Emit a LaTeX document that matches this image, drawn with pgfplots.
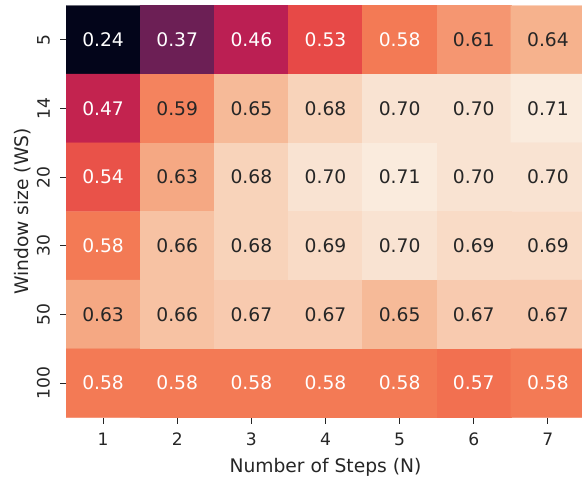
\documentclass[border=0pt]{standalone}
\usepackage{fontspec}
\setmainfont{DejaVu Sans}
\usepackage{pgfplots}
\pgfplotsset{compat=1.18}
\usepackage{pgfplotstable}
\definecolor{txt}{HTML}{262626}

% x = number of steps, y = row index of window size (5,14,20,30,50,100)
\pgfplotstableread{
x y z
1 0 0.24
2 0 0.37
3 0 0.46
4 0 0.53
5 0 0.58
6 0 0.61
7 0 0.64
1 1 0.47
2 1 0.59
3 1 0.65
4 1 0.68
5 1 0.70
6 1 0.70
7 1 0.71
1 2 0.54
2 2 0.63
3 2 0.68
4 2 0.70
5 2 0.71
6 2 0.70
7 2 0.70
1 3 0.58
2 3 0.66
3 3 0.68
4 3 0.69
5 3 0.70
6 3 0.69
7 3 0.69
1 4 0.63
2 4 0.66
3 4 0.67
4 4 0.67
5 4 0.65
6 4 0.67
7 4 0.67
1 5 0.58
2 5 0.58
3 5 0.58
4 5 0.58
5 5 0.58
6 5 0.57
7 5 0.58
}\acc

\pgfplotsset{
  cell label/.style={only marks, mark=none, point meta=explicit,
    nodes near coords={\pgfmathprintnumber[fixed, fixed zerofill, precision=2]{\pgfplotspointmeta}},
    every node near coord/.append style={anchor=center, text=#1,
      font=\fontsize{18.7}{22}\selectfont}},
}

\begin{document}
\begin{tikzpicture}
\begin{axis}[
  name=hm,
  width=519pt, height=412pt, scale only axis,
  xmin=0.5, xmax=7.5, ymin=-0.5, ymax=5.5,
  y dir=reverse,
  enlargelimits=false,
  axis line style={draw=none},
  xtick={1,...,7}, ytick={0,...,5},
  yticklabels={5,14,20,30,50,100},
  tick align=outside, xtick pos=bottom, ytick pos=left,
  major tick length=6pt,
  tick style={color=txt, line width=1pt},
  ticklabel style={font=\fontsize{17.1}{20}\selectfont, text=txt, inner sep=0pt},
  yticklabel style={rotate=90, anchor=south},
  xticklabel style={anchor=north},
  xticklabel shift=9.5pt,
  yticklabel shift=10pt,
  label style={font=\fontsize{18.7}{22}\selectfont, text=txt, inner sep=0pt},
  xlabel={Number of Steps (N)},
  ylabel={Window size (WS)},
  xlabel style={at={(axis description cs:0.5,-0.134)}, anchor=base},
  ylabel style={at={(axis description cs:-0.0732,0.5)}, anchor=base},
  colormap={rocket}{rgb255=(3,5,26) rgb255=(53,25,62) rgb255=(112,31,87)
    rgb255=(173,23,89) rgb255=(225,51,66) rgb255=(243,118,81)
    rgb255=(246,180,143) rgb255=(250,235,221)},
  point meta min=0.24, point meta max=0.71,
  /pgf/number format/assume math mode=true,
]
\addplot[matrix plot*, mesh/cols=7, point meta=explicit]
  table[x=x, y=y, meta=z] {\acc};
\addplot[cell label=white, restrict expr to domain={\thisrow{z}}{0:0.585}]
  table[x=x, y=y, meta=z] {\acc};
\addplot[cell label=txt, restrict expr to domain={\thisrow{z}}{0.585:1}]
  table[x=x, y=y, meta=z] {\acc};
\end{axis}
\pgfresetboundingbox
\path[use as bounding box] ([xshift=-66pt,yshift=-61.5pt]hm.south west)
  rectangle ([xshift=-3pt,yshift=5.5pt]hm.north east);
\end{tikzpicture}
\end{document}
